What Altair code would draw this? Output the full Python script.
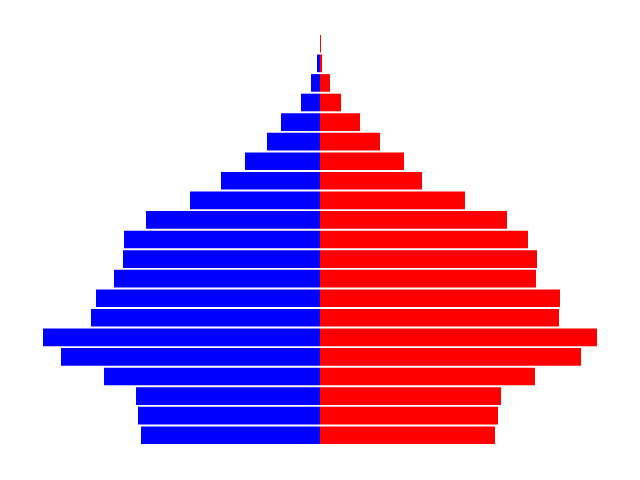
import altair as alt
import pandas as pd

# Age groups, top row = oldest
ages = ["100+", "95-99", "90-94", "85-89", "80-84", "75-79", "70-74", "65-69",
        "60-64", "55-59", "50-54", "45-49", "40-44", "35-39", "30-34", "25-29",
        "20-24", "15-19", "10-14", "5-9", "0-4"]
male = [0, 3, 9, 19, 39, 53, 75, 99, 130, 174, 196, 197, 206, 224, 229, 277,
        259, 216, 184, 182, 179]
female = [1, 2, 10, 21, 40, 60, 84, 102, 145, 187, 208, 217, 216, 240, 239, 277,
          261, 215, 181, 178, 175]

rows = []
for a, m, f in zip(ages, male, female):
    rows.append({"age": a, "sex": "Male", "value": -m})
    rows.append({"age": a, "sex": "Female", "value": f})
df = pd.DataFrame(rows)

chart = alt.Chart(df).mark_bar(strokeWidth=0).encode(
    y=alt.Y("age:N", sort=ages, axis=None,
            scale=alt.Scale(paddingInner=0.1, paddingOuter=0.05)),
    x=alt.X("value:Q", axis=None, stack=None,
            scale=alt.Scale(domain=[-277, 277], nice=False)),
    color=alt.Color("sex:N", legend=None,
                    scale=alt.Scale(domain=["Male", "Female"], range=["#0000ff", "#ff0000"])),
).properties(
    width=554, height=411,
    autosize=alt.AutoSizeParams(type="none"),
    padding={"left": 43, "top": 34, "right": 43, "bottom": 35},
).configure_view(stroke=None)

chart.save("out.html", embed_options={"renderer": "svg", "actions": False})
